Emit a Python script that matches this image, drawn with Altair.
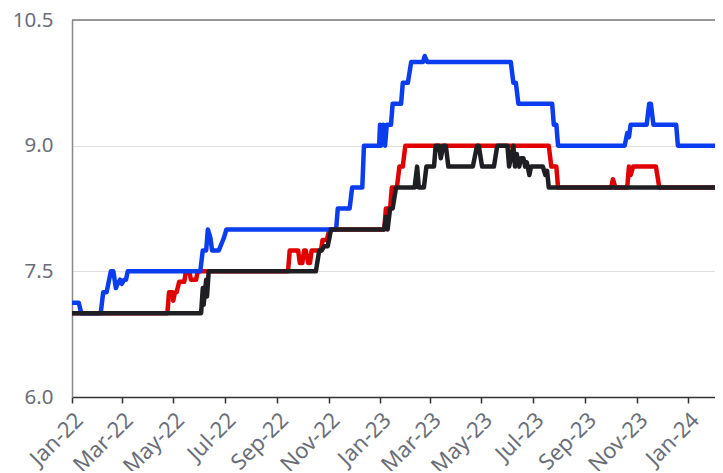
import altair as alt
import pandas as pd

# ---- data (vertex dates and values) ----
blue_dates = ["2022-01-01", "2022-01-09", "2022-01-12", "2022-02-04", "2022-02-07", "2022-02-11",
              "2022-02-16", "2022-02-19", "2022-02-22", "2022-02-24", "2022-02-27", "2022-03-01",
              "2022-03-04", "2022-03-06", "2022-03-08", "2022-06-02", "2022-06-05", "2022-06-09",
              "2022-06-11", "2022-06-14", "2022-06-16", "2022-06-24", "2022-06-28", "2022-06-30",
              "2022-07-03", "2022-11-10", "2022-11-12", "2022-11-26", "2022-11-29", "2022-12-11",
              "2022-12-13", "2022-12-31", "2023-01-01", "2023-01-02", "2023-01-05", "2023-01-07",
              "2023-01-09", "2023-01-14", "2023-01-16", "2023-01-26", "2023-01-28", "2023-02-03",
              "2023-02-07", "2023-02-21", "2023-02-23", "2023-02-26", "2023-06-05", "2023-06-08",
              "2023-06-11", "2023-06-14", "2023-07-24", "2023-07-26", "2023-07-29", "2023-07-31",
              "2023-10-18", "2023-10-21", "2023-10-23", "2023-10-25", "2023-11-13", "2023-11-16",
              "2023-11-18", "2023-11-21", "2023-12-18", "2023-12-20", "2024-02-08"]
blue_values = [7.125, 7.125, 7.0, 7.0, 7.25, 7.25,
               7.5, 7.5, 7.3, 7.35, 7.4, 7.35,
               7.4, 7.4, 7.5, 7.5, 7.75, 7.75,
               8.0, 7.9, 7.75, 7.75, 7.85, 7.9,
               8.0, 8.0, 8.25, 8.25, 8.5, 8.5,
               9.0, 9.0, 9.25, 9.0, 9.25, 9.0,
               9.25, 9.25, 9.5, 9.5, 9.75, 9.75,
               10.0, 10.0, 10.07, 10.0, 10.0, 9.75,
               9.75, 9.5, 9.5, 9.25, 9.25, 9.0,
               9.0, 9.15, 9.1, 9.25, 9.25, 9.5,
               9.5, 9.25, 9.25, 9.0, 9.0]

red_dates = ["2022-01-01", "2022-04-24", "2022-04-26", "2022-04-30", "2022-05-01", "2022-05-03",
             "2022-05-05", "2022-05-08", "2022-05-14", "2022-05-16", "2022-05-20", "2022-05-22",
             "2022-05-28", "2022-05-30", "2022-09-14", "2022-09-16", "2022-09-26", "2022-09-28",
             "2022-10-01", "2022-10-03", "2022-10-05", "2022-10-08", "2022-10-10", "2022-10-12",
             "2022-10-23", "2022-10-25", "2022-10-30", "2022-11-02", "2023-01-06", "2023-01-08",
             "2023-01-13", "2023-01-15", "2023-01-21", "2023-01-24", "2023-01-28", "2023-01-31",
             "2023-07-20", "2023-07-23", "2023-07-29", "2023-07-31", "2023-10-02", "2023-10-04",
             "2023-10-07", "2023-10-21", "2023-10-23", "2023-10-25", "2023-10-28", "2023-11-24",
             "2023-11-28", "2024-02-08"]
red_values = [7.0, 7.0, 7.25, 7.25, 7.15, 7.25,
              7.25, 7.375, 7.375, 7.5, 7.5, 7.4,
              7.4, 7.5, 7.5, 7.75, 7.75, 7.6,
              7.6, 7.75, 7.75, 7.6, 7.6, 7.75,
              7.75, 7.875, 7.875, 8.0, 8.0, 8.25,
              8.25, 8.5, 8.5, 8.75, 8.75, 9.0,
              9.0, 8.75, 8.75, 8.5, 8.5, 8.6,
              8.5, 8.5, 8.75, 8.65, 8.75, 8.75,
              8.5, 8.5]

black_dates = ["2022-01-01", "2022-06-03", "2022-06-05", "2022-06-06", "2022-06-09", "2022-06-10",
               "2022-06-12", "2022-10-17", "2022-10-21", "2022-10-24", "2022-10-27", "2022-10-31",
               "2022-11-04", "2023-01-06", "2023-01-08", "2023-01-10", "2023-01-13", "2023-01-16",
               "2023-01-20", "2023-02-11", "2023-02-14", "2023-02-16", "2023-02-22", "2023-02-25",
               "2023-03-06", "2023-03-08", "2023-03-12", "2023-03-14", "2023-03-17", "2023-03-20",
               "2023-03-23", "2023-04-21", "2023-04-26", "2023-04-28", "2023-05-02", "2023-05-16",
               "2023-05-20", "2023-06-01", "2023-06-03", "2023-06-05", "2023-06-08", "2023-06-10",
               "2023-06-12", "2023-06-15", "2023-06-17", "2023-06-20", "2023-06-22", "2023-06-24",
               "2023-06-27", "2023-06-29", "2023-07-13", "2023-07-16", "2023-07-18", "2023-07-20",
               "2024-02-08"]
black_values = [7.0, 7.0, 7.3, 7.1, 7.4, 7.2,
                7.5, 7.5, 7.75, 7.75, 7.8, 7.8,
                8.0, 8.0, 8.15, 8.0, 8.25, 8.25,
                8.5, 8.5, 8.75, 8.5, 8.5, 8.75,
                8.75, 9.0, 9.0, 8.85, 9.0, 9.0,
                8.75, 8.75, 9.0, 9.0, 8.75, 8.75,
                9.0, 9.0, 8.75, 8.85, 9.0, 8.75,
                8.9, 8.75, 8.85, 8.85, 8.75, 8.8,
                8.65, 8.75, 8.75, 8.65, 8.7, 8.5,
                8.5]

y_ticks = [6.0, 7.5, 9.0, 10.5]
x_ticks = ["2022-01-01", "2022-03-01", "2022-05-01", "2022-07-01", "2022-09-01", "2022-11-01",
           "2023-01-01", "2023-03-01", "2023-05-01", "2023-07-01", "2023-09-01", "2023-11-01",
           "2024-01-01"]

FONT = "Noto Sans"
LABEL = "#6b6e78"

x_dom = [alt.DateTime(year=2022, month=1, date=1), alt.DateTime(year=2024, month=2, date=2)]
xscale = alt.Scale(domain=x_dom, nice=False)
yscale = alt.Scale(domain=[6.0, 10.5], nice=False, zero=False)

x_tick_dt = [alt.DateTime(year=int(s[:4]), month=int(s[5:7]), date=1) for s in x_ticks]


def series(dates, values, color):
    df = pd.DataFrame({"date": pd.to_datetime(dates), "value": values})
    return alt.Chart(df).mark_line(
        color=color, strokeWidth=4.5, strokeCap="round", strokeJoin="round", clip=True
    ).encode(
        x=alt.X("date:T", scale=xscale, title=None,
                axis=alt.Axis(values=x_tick_dt, format="%b-%y", labelAngle=-45,
                              labelFontSize=22, labelColor=LABEL, labelFont=FONT,
                              labelOverlap=False, labelFlush=False, labelBound=False,
                              grid=False, tickSize=6, tickColor="#333333", tickWidth=1.5,
                              domainColor="#333333", domainWidth=1.5, labelPadding=6)),
        y=alt.Y("value:Q", scale=yscale, title=None,
                axis=alt.Axis(values=y_ticks, format=".1f", labelFontSize=20.5,
                              labelColor=LABEL, labelFont=FONT, ticks=False,
                              labelOverlap=False, labelFlush=False,
                              labelPadding=19, domainColor="#8a8a8a", domainWidth=1.5,
                              grid=True, gridColor="#dedede", gridWidth=1)),
    )


top_df = pd.DataFrame({"value": [10.5]})
top_rule = alt.Chart(top_df).mark_rule(color="#7a7a7a", strokeWidth=1.5).encode(
    y=alt.Y("value:Q", scale=yscale)
)

chart = alt.layer(
    top_rule,
    series(red_dates, red_values, "#e00000"),
    series(blue_dates, blue_values, "#0a3cf0"),
    series(black_dates, black_values, "#1f1f23"),
).properties(
    width=643, height=377,
    autosize=alt.AutoSizeParams(type="none"),
    padding={"left": 64, "top": 12, "right": 0, "bottom": 74},
).configure_view(stroke=None)

chart.save("out.html", embed_options={"renderer": "svg", "actions": False})
